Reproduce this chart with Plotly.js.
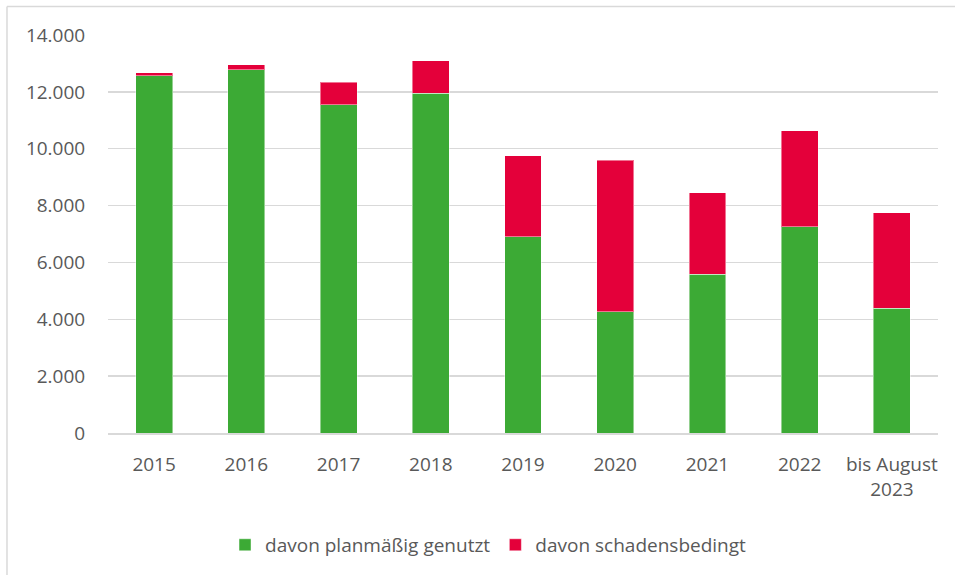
<!DOCTYPE html>
<html>
<head>
<meta charset="utf-8">
<script src="https://cdn.plot.ly/plotly-3.0.1.min.js"></script>
<style>html,body{margin:0;padding:0;background:#fff;}#chart{width:955px;height:575px;}</style>
</head>
<body>
<div id="chart"></div>
<script>
const categories = ["2015","2016","2017","2018","2019","2020","2021","2022","bis August<br>2023"];
const planmaessig = [12560, 12770, 11550, 11950, 6900, 4270, 5590, 7250, 4390];
const schadensbedingt = [120, 190, 790, 1140, 2850, 5320, 2860, 3390, 3350];
const seriesNames = ["davon planmäßig genutzt", "davon schadensbedingt"];
const yTicks = [0, 2000, 4000, 6000, 8000, 10000, 12000, 14000];
const yTickLabels = ["0", "2.000", "4.000", "6.000", "8.000", "10.000", "12.000", "14.000"];

const font = {family: "'Open Sans', 'Noto Sans', sans-serif", size: 19, color: "#595959"};
const traces = [
  {type: "bar", x: categories, y: planmaessig, name: seriesNames[0],
   marker: {color: "#3caa35", line: {color: "rgba(255,255,255,0.45)", width: 1}}},
  {type: "bar", x: categories, y: schadensbedingt, name: seriesNames[1],
   marker: {color: "#e4003a", line: {color: "rgba(255,255,255,0.45)", width: 1}}}
];
const layout = {
  width: 955, height: 575,
  margin: {l: 108, r: 17, t: 35, b: 141},
  barmode: "stack", bargap: 0.6,
  paper_bgcolor: "#fff", plot_bgcolor: "#fff",
  font: font,
  showlegend: true,
  legend: {orientation: "h", x: 0.141, xanchor: "left", y: -0.278, yanchor: "middle",
           font: font, traceorder: "normal", itemwidth: 30},
  xaxis: {type: "category", showgrid: false, showline: true, linecolor: "#d9d9d9", linewidth: 1.5,
          ticks: "outside", ticklen: 14, tickcolor: "rgba(0,0,0,0)", tickfont: font, fixedrange: true},
  yaxis: {range: [0, 14000], tickvals: yTicks, ticktext: yTickLabels, showgrid: true,
          gridcolor: "#d9d9d9", gridwidth: 1.5, zeroline: false, showline: false,
          ticks: "outside", ticklen: 18, tickcolor: "rgba(0,0,0,0)", tickfont: font, fixedrange: true},
  shapes: [
    {type: "line", xref: "paper", yref: "paper", x0: -0.1217, x1: 1.03, y0: 1.0714, y1: 1.0714,
     line: {color: "#d9d9d9", width: 1.5}},
    {type: "line", xref: "paper", yref: "paper", x0: -0.1217, x1: -0.1217, y0: 1.0714, y1: -0.36,
     line: {color: "#d9d9d9", width: 1.5}}
  ]
};
Plotly.newPlot("chart", traces, layout, {displayModeBar: false, staticPlot: true});
</script>
</body>
</html>
